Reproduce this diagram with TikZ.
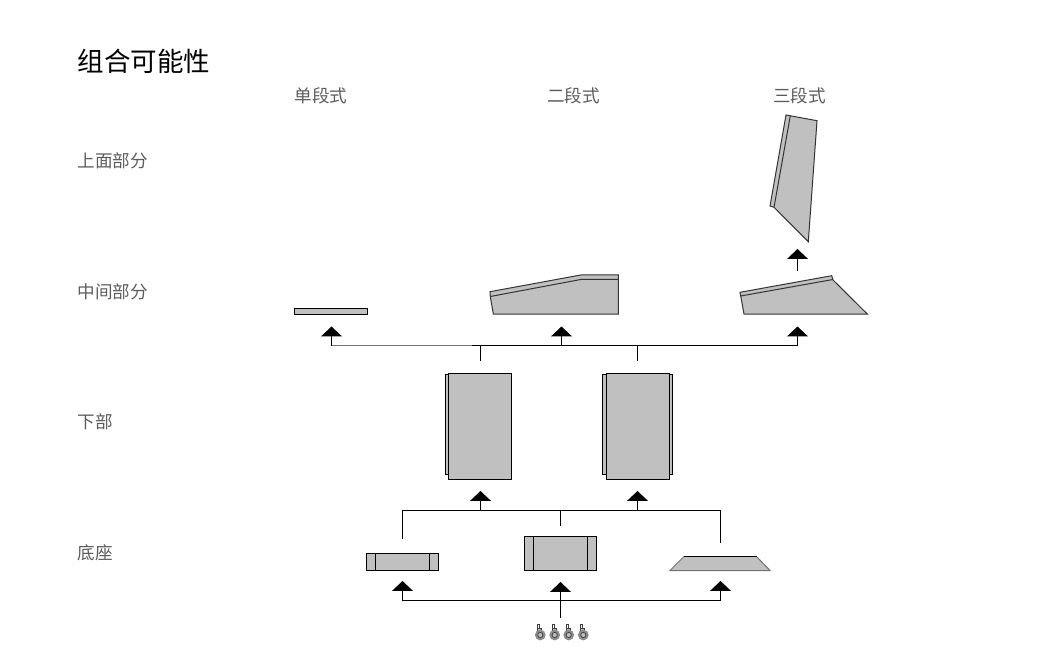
\documentclass[tikz,border=0pt]{standalone}
\usepackage{fontspec}
\setmainfont{Noto Sans CJK SC}
\usetikzlibrary{arrows.meta}
\definecolor{partfill}{HTML}{C0C0C0}
\definecolor{labelgray}{HTML}{5C5C5C}
\tikzset{
  part/.style={draw=black,fill=partfill,line width=0.75pt,line join=miter},
  softpart/.style={draw=black!80,fill=partfill,line width=0.75pt},
  link/.style={draw=black,line width=0.75pt},
  lift/.style={link,-{Triangle[width=15.5pt,length=7.4pt]}},
  rowlabel/.style={anchor=west,text=labelgray,font=\fontsize{13.2}{13.2}\selectfont,inner sep=0pt},
  columnlabel/.style={text=labelgray,font=\fontsize{13.2}{13.2}\selectfont,inner sep=0pt},
}
\begin{document}
\begin{tikzpicture}[x=0.75pt,y=-0.75pt]
\useasboundingbox (0,0) rectangle (1044,648);

\node (title) at (77.5,61) [anchor=west,inner sep=0pt,text=black,font=\fontsize{19.9}{19.9}\selectfont] {组合可能性};
\node (single) at (321,96) [columnlabel] {单段式};
\node (double) at (573.5,96) [columnlabel] {二段式};
\node (triple) at (799.5,96) [columnlabel] {三段式};
\node (upper) at (77.5,161) [rowlabel] {上面部分};
\node (middle) at (77.5,292) [rowlabel] {中间部分};
\node (lower) at (77.5,422) [rowlabel] {下部};
\node (base) at (77.5,553) [rowlabel] {底座};

% upper part
\draw[softpart] (786,115) -- (817,120.7) -- (808.3,241.7) -- (774,207.3) -- (770,206) -- cycle;
\draw[softpart] (790.3,115.7) -- (774,207.3);

% middle parts
\draw[part] (294.5,308.5) rectangle (367.5,314.5);
\draw[softpart] (490,291.7) -- (580.7,275) -- (618.3,275) -- (618.3,314) -- (493.3,314) -- (490.3,296.5) -- cycle;
\draw[softpart] (490.3,296.5) -- (580.7,279.5) -- (618.3,279.5);
\draw[softpart] (740,292.3) -- (831.7,275.7) -- (833,280) -- (867.3,314) -- (744,314) -- (740.7,296) -- cycle;
\draw[softpart] (740.7,296) -- (833,279.5);

% lower parts
\draw[part] (445,374.5) rectangle (449,474.5);
\draw[part] (448.5,373.5) rectangle (511.5,479.5);
\draw[part] (602.5,374.5) rectangle (606.5,474.5);
\draw[part] (668.5,374.5) rectangle (672.5,474.5);
\draw[part] (606,373.5) rectangle (669.5,479.5);

% bases
\draw[part] (366,553.5) rectangle (438.5,570.5);
\draw[part] (375.5,553.5) -- (375.5,570.5);
\draw[part] (429.5,553.5) -- (429.5,570.5);
\draw[part] (524,536.5) rectangle (596.5,570.5);
\draw[part] (533,536.5) -- (533,570.5);
\draw[part] (587.5,536.5) -- (587.5,570.5);
\fill[partfill] (670,570.5) -- (684,556.5) -- (756.5,556.5) -- (770,570.5) -- cycle;
\draw[link,draw=black!55] (684,556.5) -- (670,570.5) -- (770,570.5) -- (756.5,556.5);
\draw[link] (684,556.5) -- (756.5,556.5);

% casters
\foreach \n/\x in {1/540.3,2/554.7,3/568.7,4/583.3} {
  \draw[line width=0.6pt,draw=black!75,fill=white] (\x-2.5,624.5) rectangle (\x-0.5,630);
  \draw[line width=0.6pt,draw=black!75,fill=partfill] (\x-2.5,628) rectangle (\x+1.5,631);
  \draw[line width=1.1pt,draw=black!45,fill=black!45] (\x,635) circle (4.6);
  \draw[line width=0.6pt,draw=black!75,fill=partfill] (\x,635) circle (2.6);
}

\coordinate (midbusl) at (331.5,345.5);
\coordinate (midbusr) at (797.5,345.5);
\coordinate (midsplit) at (472,345.5);
\coordinate (midtipa) at (331.5,326.5);
\coordinate (midtipb) at (561.5,326.5);
\coordinate (midtipc) at (797.5,326.5);
\coordinate (midjoinb) at (561.5,345.5);
\coordinate (topfoot) at (797.5,271.5);
\coordinate (toptip) at (797.5,249);
\coordinate (stemaup) at (480,345.5);
\coordinate (stemadown) at (480,361);
\coordinate (stembup) at (637,345.5);
\coordinate (stembdown) at (637,361);

\draw[link,draw=black!55] (midbusl) -- (midsplit);
\draw[link] (midsplit) -- (midbusr);
\draw[lift] (midbusl) -- (midtipa);
\draw[lift] (midjoinb) -- (midtipb);
\draw[lift] (midbusr) -- (midtipc);
\draw[lift] (topfoot) -- (toptip);
\draw[link] (stemaup) -- (stemadown);
\draw[link] (stembup) -- (stembdown);

\coordinate (lowbusl) at (402.5,510.5);
\coordinate (lowbusr) at (720.5,510.5);
\coordinate (lowendl) at (402.5,539);
\coordinate (lowendr) at (720.5,543);
\coordinate (lowstem) at (560.5,510.5);
\coordinate (lowstemend) at (560.5,526);
\coordinate (lowjoina) at (480.5,510.5);
\coordinate (lowjoinb) at (637.5,510.5);
\coordinate (lowtipa) at (480.5,491);
\coordinate (lowtipb) at (637.5,491);

\draw[link] (lowendl) -- (lowbusl) -- (lowbusr) -- (lowendr);
\draw[link] (lowstem) -- (lowstemend);
\draw[lift] (lowjoina) -- (lowtipa);
\draw[lift] (lowjoinb) -- (lowtipb);

\coordinate (footbusl) at (402.5,600.5);
\coordinate (footbusr) at (720.5,600.5);
\coordinate (foottipa) at (402.5,581);
\coordinate (foottipb) at (560.5,582);
\coordinate (foottipc) at (720.5,581);
\coordinate (footstem) at (560.5,618);

\draw[link] (footbusl) -- (footbusr);
\draw[lift] (footbusl) -- (foottipa);
\draw[lift] (footstem) -- (foottipb);
\draw[lift] (footbusr) -- (foottipc);
\end{tikzpicture}
\end{document}
